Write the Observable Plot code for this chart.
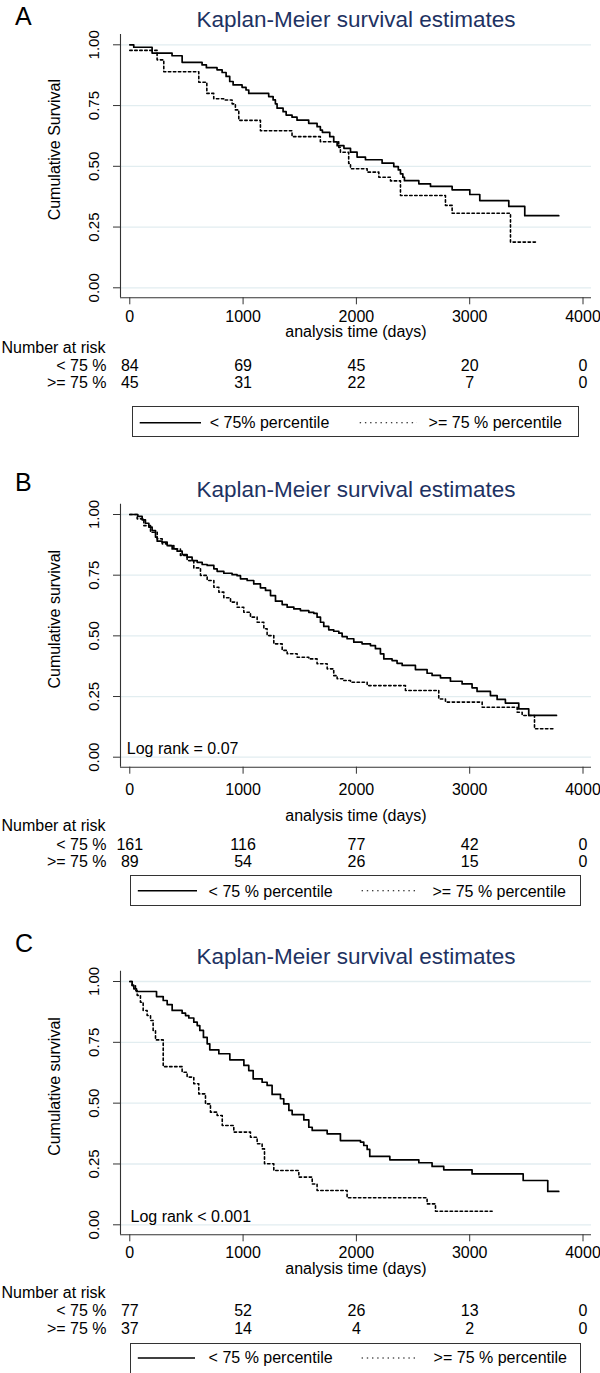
<!DOCTYPE html>
<html>
<head>
<meta charset="utf-8">
<script src="https://cdn.jsdelivr.net/npm/d3@7"></script>
<script src="https://cdn.jsdelivr.net/npm/@observablehq/plot@0.6"></script>
<style>
  html, body { margin: 0; padding: 0; background: #fff; }
  #page { position: relative; width: 600px; height: 1373px; overflow: hidden; background: #fff;
          font-family: "Liberation Sans", Arial, Helvetica, sans-serif; }
  .panel { position: absolute; left: 0; }
  .panel svg { display: block; }
  .legend { position: absolute; box-sizing: border-box; border: 1px solid #333; background: #fff; }
  .legend svg { display: block; }
</style>
</head>
<body>
<div id="page"></div>
<script>
// ---------------- data ----------------
const timeTicks = [0, 1000, 2000, 3000, 4000];
const survTicks = [0, 0.25, 0.5, 0.75, 1];
const groupLabels = ["< 75 %", ">= 75 %"];
const chartTitle = "Kaplan-Meier survival estimates";
const xTitle = "analysis time (days)";
const riskTitle = "Number at risk";

// Panel A: [days, cumulative survival] step breakpoints
const aBelow = [[0,1],[35,0.990],[197,0.966],[373,0.955],[462,0.928],[638,0.917],[676,0.906],[770,0.897],[815,0.886],[850,0.870],[882,0.849],[912,0.835],[991,0.825],[1026,0.814],[1050,0.800],[1226,0.787],[1265,0.773],[1285,0.757],[1300,0.739],[1353,0.725],[1380,0.711],[1432,0.702],[1476,0.690],[1579,0.677],[1653,0.663],[1682,0.649],[1700,0.640],[1765,0.622],[1800,0.601],[1830,0.585],[1890,0.574],[1948,0.558],[2006,0.538],[2080,0.527],[2227,0.513],[2330,0.499],[2370,0.485],[2389,0.469],[2410,0.455],[2424,0.441],[2551,0.428],[2654,0.417],[2845,0.403],[3001,0.384],[3089,0.359],[3345,0.335],[3486,0.297],[3786,0.297]];
const aAbove = [[0,0.977],[241,0.938],[300,0.889],[609,0.846],[680,0.800],[741,0.778],[829,0.773],[903,0.757],[932,0.732],[962,0.689],[1153,0.646],[1432,0.622],[1682,0.601],[1844,0.578],[1859,0.558],[1932,0.512],[1948,0.490],[2095,0.476],[2198,0.455],[2301,0.440],[2389,0.380],[2786,0.339],[2845,0.307],[3360,0.188],[3580,0.188]];
const aRiskBelow = [84, 69, 45, 20, 0];
const aRiskAbove = [45, 31, 22, 7, 0];

// Panel B
const bBelow = [[0,1],[71,0.992],[109,0.978],[138,0.964],[168,0.948],[197,0.934],[227,0.907],[242,0.890],[286,0.886],[330,0.872],[374,0.858],[418,0.849],[462,0.835],[506,0.824],[550,0.810],[595,0.803],[639,0.794],[683,0.790],[742,0.776],[771,0.766],[830,0.758],[903,0.752],[947,0.748],[977,0.735],[1036,0.728],[1094,0.714],[1153,0.698],[1198,0.687],[1242,0.666],[1286,0.643],[1345,0.629],[1389,0.618],[1448,0.611],[1506,0.604],[1580,0.597],[1624,0.593],[1653,0.577],[1683,0.556],[1712,0.539],[1756,0.525],[1800,0.519],[1845,0.511],[1874,0.497],[1918,0.488],[1977,0.474],[2050,0.467],[2124,0.460],[2168,0.447],[2212,0.426],[2242,0.405],[2315,0.398],[2359,0.387],[2404,0.378],[2521,0.361],[2624,0.346],[2668,0.337],[2742,0.327],[2830,0.313],[2933,0.302],[3021,0.286],[3065,0.271],[3183,0.254],[3242,0.238],[3315,0.223],[3433,0.199],[3521,0.172],[3766,0.172]];
const bAbove = [[0,1],[65,0.982],[124,0.954],[183,0.927],[242,0.900],[286,0.879],[330,0.872],[389,0.858],[447,0.831],[506,0.810],[565,0.780],[624,0.749],[683,0.728],[742,0.700],[786,0.680],[830,0.657],[889,0.639],[947,0.618],[1006,0.597],[1065,0.577],[1124,0.556],[1183,0.529],[1212,0.501],[1271,0.467],[1345,0.440],[1389,0.426],[1477,0.412],[1580,0.405],[1653,0.385],[1742,0.364],[1800,0.336],[1830,0.323],[1889,0.316],[1948,0.309],[2095,0.295],[2433,0.275],[2727,0.240],[2786,0.227],[3110,0.206],[3419,0.185],[3463,0.172],[3572,0.117],[3736,0.117]];
const bRiskBelow = [161, 116, 77, 42, 0];
const bRiskAbove = [89, 54, 26, 15, 0];
const bLogRank = "Log rank = 0.07";

// Panel C
const cBelow = [[0,1],[21,0.984],[36,0.970],[59,0.959],[236,0.938],[295,0.922],[330,0.905],[374,0.881],[462,0.870],[492,0.860],[521,0.850],[565,0.833],[595,0.819],[618,0.799],[650,0.770],[683,0.744],[706,0.719],[786,0.703],[883,0.678],[1007,0.655],[1050,0.634],[1089,0.600],[1168,0.586],[1212,0.573],[1256,0.536],[1330,0.518],[1359,0.497],[1404,0.470],[1433,0.453],[1536,0.431],[1580,0.401],[1610,0.388],[1742,0.374],[1859,0.346],[2036,0.340],[2065,0.326],[2095,0.310],[2118,0.281],[2295,0.267],[2551,0.255],[2668,0.240],[2771,0.226],[3021,0.209],[3472,0.182],[3689,0.137],[3786,0.137]];
const cAbove = [[0,1],[21,0.984],[50,0.963],[65,0.943],[94,0.915],[118,0.881],[153,0.860],[183,0.840],[206,0.799],[227,0.760],[295,0.650],[462,0.627],[506,0.607],[565,0.580],[609,0.538],[668,0.497],[712,0.463],[771,0.449],[816,0.408],[918,0.381],[1065,0.360],[1124,0.333],[1168,0.312],[1189,0.251],[1271,0.223],[1492,0.196],[1610,0.168],[1653,0.141],[1918,0.111],[2624,0.086],[2698,0.056],[3198,0.056]];
const cRiskBelow = [77, 52, 26, 13, 0];
const cRiskAbove = [37, 14, 4, 2, 0];
const cLogRank = "Log rank < 0.001";

// ---------------- styling / layout ----------------
const FONT = '"Liberation Sans", Arial, Helvetica, sans-serif';
const NAVY = "#1e3262";
const GRID = "#e2edf0";
const AXIS = "#333";
const X_DOMAIN = [-82, 4075];
const Y_DOMAIN = [-0.0412, 1.0424];
const W = 600, FRAME_LEFT = 120, FRAME_RIGHT = 591;

const panels = [
  {letter: "A", yLabel: "Cumulative Survival", below: aBelow, above: aAbove, riskBelow: aRiskBelow, riskAbove: aRiskAbove,
   svgTop: 0, svgBottom: 400, y1: 44.3, y0: 287.3, letterBase: 24, titleBase: 26.7,
   tickBase: 321.7, xLabelBase: 336.7, narBase: 352, row1Base: 370.3, row2Base: 387.6,
   legend: {left: 132, top: 406, width: 447, height: 31, lineY: 16.7, base: 22.3, s1: 7.7, s2: 69, t1: 77.7, d1: 227.7, d2: 285, t2: 296.6,
            labels: ["< 75% percentile", ">= 75 % percentile"]}},
  {letter: "B", yLabel: "Cumulative survival", below: bBelow, above: bAbove, riskBelow: bRiskBelow, riskAbove: bRiskAbove,
   svgTop: 452, svgBottom: 872, y1: 514, y0: 756.7, letterBase: 490, titleBase: 496,
   tickBase: 794, xLabelBase: 820, narBase: 830.5, row1Base: 849, row2Base: 866.5,
   logRank: bLogRank, logRankX: 126.3, logRankBase: 753.7,
   legend: {left: 130, top: 875, width: 451, height: 31, lineY: 15.7, base: 21.5, s1: 7.8, s2: 67, t1: 78.6, d1: 231.6, d2: 285, t2: 302.5,
            labels: ["< 75 % percentile", ">= 75 % percentile"]}},
  {letter: "C", yLabel: "Cumulative survival", below: cBelow, above: cAbove, riskBelow: cRiskBelow, riskAbove: cRiskAbove,
   svgTop: 920, svgBottom: 1340, y1: 981, y0: 1224.3, letterBase: 951, titleBase: 963.3,
   tickBase: 1257.3, xLabelBase: 1273.4, narBase: 1297.5, row1Base: 1315.5, row2Base: 1333,
   logRank: cLogRank, logRankX: 130, logRankBase: 1221.5,
   legend: {left: 130, top: 1343, width: 451, height: 31, lineY: 15, base: 20.3, s1: 7.8, s2: 65, t1: 78.6, d1: 231.6, d2: 287, t2: 303.6,
            labels: ["< 75 % percentile", ">= 75 % percentile"]}}
];

function makePanel(p) {
  const unit = p.y0 - p.y1;
  const frameTop = p.y1 - (Y_DOMAIN[1] - 1) * unit;
  const frameBottom = p.y0 - Y_DOMAIN[0] * unit;
  const fb = v => v - frameBottom;
  const ft = v => v - frameTop;
  const rows = pairs => pairs.map(([t, s]) => ({t, s}));
  const risk = timeTicks.map((t, i) => ({t, lo: String(p.riskBelow[i]), hi: String(p.riskAbove[i])}));
  const txt = {fill: "#000", fontSize: 16, lineAnchor: "bottom"};
  const marks = [
    Plot.ruleY(survTicks, {y: d => d, stroke: GRID, strokeWidth: 1.3}),
    Plot.ruleX([X_DOMAIN[0]], {x: d => d, stroke: AXIS, strokeWidth: 1.1}),
    Plot.ruleY([Y_DOMAIN[0]], {y: d => d, stroke: AXIS, strokeWidth: 1.1}),
    Plot.axisY(survTicks, {anchor: "left", tickSize: 7, fill: "none", label: null, stroke: AXIS}),
    Plot.axisX(timeTicks, {anchor: "bottom", tickSize: 7, fill: "none", label: null, stroke: AXIS}),
    Plot.text(survTicks, {y: d => d, text: d => d3.format(".2f")(d), frameAnchor: "left", dx: 94 - FRAME_LEFT,
      rotate: -90, textAnchor: "middle", lineAnchor: "middle", fontSize: 15, fill: "#000"}),
    Plot.text([p.yLabel], {text: d => d, frameAnchor: "left", dx: 54 - FRAME_LEFT, dy: -16.5,
      rotate: -90, textAnchor: "middle", lineAnchor: "middle", fontSize: 16, fill: "#000"}),
    Plot.text(timeTicks, {x: d => d, text: d => String(d), frameAnchor: "bottom", dy: fb(p.tickBase), ...txt}),
    Plot.text([xTitle], {text: d => d, frameAnchor: "bottom", dy: fb(p.xLabelBase), ...txt}),
    Plot.text([riskTitle], {text: d => d, frameAnchor: "bottom-left", dx: 1 - FRAME_LEFT, dy: fb(p.narBase), textAnchor: "start", ...txt}),
    Plot.text([groupLabels[0]], {text: d => d, frameAnchor: "bottom-left", dx: 106 - FRAME_LEFT, dy: fb(p.row1Base), textAnchor: "end", ...txt}),
    Plot.text([groupLabels[1]], {text: d => d, frameAnchor: "bottom-left", dx: 106 - FRAME_LEFT, dy: fb(p.row2Base), textAnchor: "end", ...txt}),
    Plot.text(risk, {x: "t", text: "lo", frameAnchor: "bottom", dy: fb(p.row1Base), ...txt}),
    Plot.text(risk, {x: "t", text: "hi", frameAnchor: "bottom", dy: fb(p.row2Base), ...txt}),
    Plot.text([p.letter], {text: d => d, frameAnchor: "top-left", dx: 14.5 - FRAME_LEFT, dy: ft(p.letterBase),
      textAnchor: "start", lineAnchor: "bottom", fontSize: 25, fill: "#000"}),
    Plot.text([chartTitle], {text: d => d, frameAnchor: "top", dy: ft(p.titleBase),
      lineAnchor: "bottom", fontSize: 22.5, fill: NAVY}),
    Plot.line(rows(p.below), {x: "t", y: "s", curve: "step-after", stroke: "#000", strokeWidth: 1.7}),
    Plot.line(rows(p.above), {x: "t", y: "s", curve: "step-after", stroke: "#000", strokeWidth: 1.6, strokeDasharray: "2.4,2.6"})
  ];
  if (p.logRank) {
    marks.push(Plot.text([p.logRank], {text: d => d, frameAnchor: "bottom-left", dx: p.logRankX - FRAME_LEFT,
      dy: fb(p.logRankBase), textAnchor: "start", ...txt}));
  }
  return Plot.plot({
    width: W,
    height: p.svgBottom - p.svgTop,
    marginTop: frameTop - p.svgTop,
    marginBottom: p.svgBottom - frameBottom,
    marginLeft: FRAME_LEFT,
    marginRight: W - FRAME_RIGHT,
    x: {domain: X_DOMAIN},
    y: {domain: Y_DOMAIN},
    style: {fontFamily: FONT, color: "#000", background: "transparent", overflow: "visible"},
    marks
  });
}

const NS = "http://www.w3.org/2000/svg";
function svgEl(tag, attrs, text) {
  const el = document.createElementNS(NS, tag);
  for (const k in attrs) el.setAttribute(k, attrs[k]);
  if (text != null) el.textContent = text;
  return el;
}
function makeLegend(L) {
  const div = document.createElement("div");
  div.className = "legend";
  Object.assign(div.style, {left: L.left + "px", top: L.top + "px", width: L.width + "px", height: L.height + "px"});
  const w = L.width - 2, h = L.height - 2;
  const svg = svgEl("svg", {width: w, height: h, viewBox: `1 1 ${w} ${h}`});
  svg.appendChild(svgEl("line", {x1: L.s1, x2: L.s2, y1: L.lineY, y2: L.lineY, stroke: "#000", "stroke-width": 1.5}));
  svg.appendChild(svgEl("line", {x1: L.d1, x2: L.d2, y1: L.lineY, y2: L.lineY, stroke: "#000", "stroke-width": 1.1, "stroke-dasharray": "1.4,3.8"}));
  const ts = {"font-family": FONT, "font-size": 16, fill: "#000"};
  svg.appendChild(svgEl("text", {x: L.t1, y: L.base, ...ts}, L.labels[0]));
  svg.appendChild(svgEl("text", {x: L.t2, y: L.base, ...ts}, L.labels[1]));
  div.appendChild(svg);
  return div;
}

const page = document.getElementById("page");
for (const p of panels) {
  const holder = document.createElement("div");
  holder.className = "panel";
  holder.style.top = p.svgTop + "px";
  holder.appendChild(makePanel(p));
  page.appendChild(holder);
  page.appendChild(makeLegend(p.legend));
}
</script>
</body>
</html>
